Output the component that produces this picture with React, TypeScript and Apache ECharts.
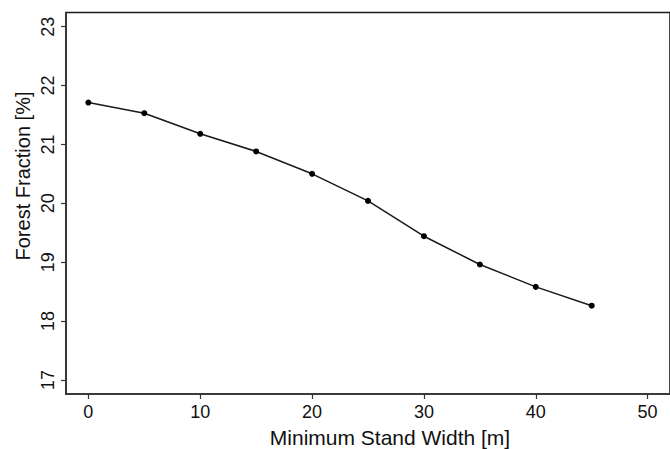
import React, { useEffect, useRef } from "react";
import * as echarts from "echarts";

const standWidth = [0, 5, 10, 15, 20, 25, 30, 35, 40, 45];
const forestFraction = [21.71, 21.53, 21.18, 20.88, 20.5, 20.04, 19.44, 18.96, 18.58, 18.26];
const xTicks = [0, 10, 20, 30, 40, 50];
const yTicks = [17, 18, 19, 20, 21, 22, 23];
const xTitle = "Minimum Stand Width [m]";
const yTitle = "Forest Fraction [%]";

export default function App() {
  const ref = useRef<HTMLDivElement>(null);
  useEffect(() => {
    if (!ref.current) return;
    const chart = echarts.init(ref.current, null, { renderer: "svg" });
    const font = "'Liberation Sans', Arial, sans-serif";
    chart.setOption({
      animation: false,
      backgroundColor: "#fff",
      grid: {
        left: 66,
        top: 12.5,
        width: 606,
        height: 381.5,
        show: true,
        borderColor: "#1a1a1a",
        borderWidth: 1.6,
        containLabel: false,
      },
      xAxis: {
        type: "value",
        min: -2,
        max: 52,
        axisLine: { show: true, onZero: false, lineStyle: { color: "#333", width: 1.5 } },
        axisTick: {
          show: true,
          length: 5,
          customValues: xTicks,
          lineStyle: { color: "#333", width: 1.2 },
        },
        axisLabel: {
          customValues: xTicks,
          fontSize: 18,
          color: "#111",
          fontFamily: font,
          margin: 9,
        },
        splitLine: { show: false },
      },
      yAxis: {
        type: "value",
        min: 16.76,
        max: 23.24,
        axisLine: { show: true, onZero: false, lineStyle: { color: "#333", width: 1.5 } },
        axisTick: {
          show: true,
          length: 5,
          customValues: yTicks,
          lineStyle: { color: "#333", width: 1.2 },
        },
        axisLabel: {
          customValues: yTicks,
          rotate: 90,
          fontSize: 18,
          color: "#111",
          fontFamily: font,
          margin: 9,
        },
        splitLine: { show: false },
      },
      graphic: [
        {
          type: "text",
          x: 390,
          y: 437,
          style: {
            text: xTitle,
            fontSize: 21,
            fill: "#111",
            fontFamily: font,
            textAlign: "center",
            textVerticalAlign: "middle",
          },
        },
        {
          type: "text",
          x: 23,
          y: 176,
          rotation: Math.PI / 2,
          style: {
            text: yTitle,
            fontSize: 20,
            fill: "#111",
            fontFamily: font,
            textAlign: "center",
            textVerticalAlign: "middle",
          },
        },
      ],
      series: [
        {
          type: "line",
          data: standWidth.map((w, i) => [w, forestFraction[i]]),
          symbol: "circle",
          symbolSize: 6,
          itemStyle: { color: "#000" },
          lineStyle: { color: "#1a1a1a", width: 1.5 },
        },
      ],
    });
    return () => chart.dispose();
  }, []);
  return (
    <div
      ref={ref}
      style={{ position: "fixed", left: 0, top: 0, width: 670, height: 449 }}
    />
  );
}
